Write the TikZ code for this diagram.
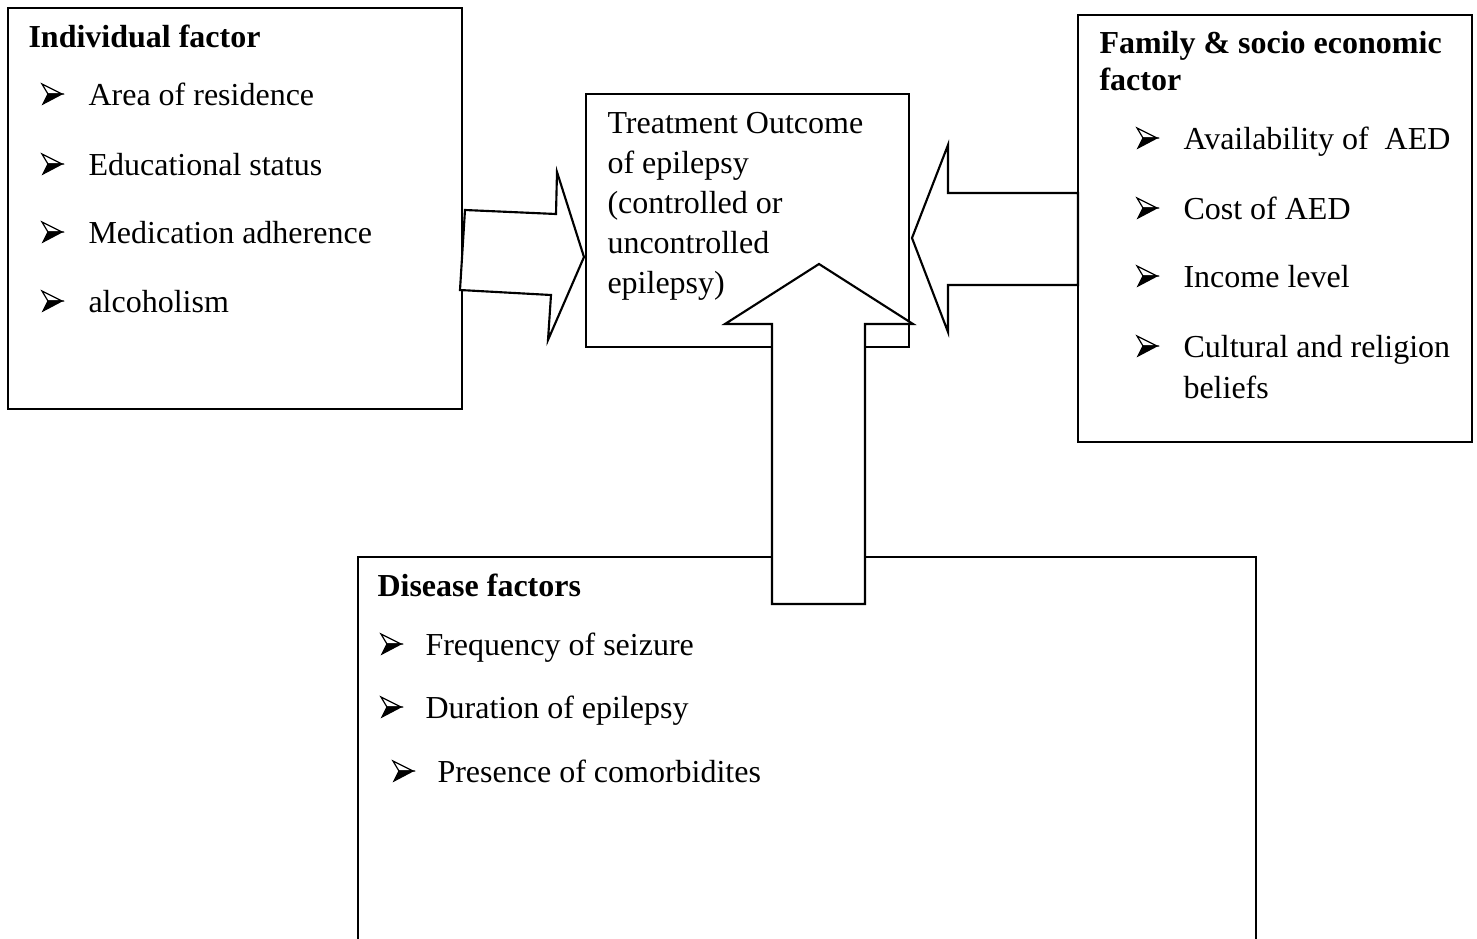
\documentclass[tikz,border=0pt]{standalone}
\usepackage{fontspec}
\setmainfont{Liberation Serif}
\begin{document}
\begin{tikzpicture}[x=0.375pt,y=-0.375pt,
  box/.style={draw=black,line width=0.8pt,fill=white},
  blockarrow/.style={draw=black,line width=0.8pt,fill=white,line join=miter},
  txt/.style={anchor=base west,inner sep=0pt,font=\fontsize{12}{15}\selectfont},
  head/.style={txt,font=\fontsize{12}{15}\selectfont\bfseries},
  pics/arrowbullet/.style={code={
    \draw[line width=0.45pt,line join=miter,fill=white] (0,-10) -- (20,0) -- (6,0) -- cycle;
    \fill[black] (6,0) -- (20,0) -- (1,10) -- cycle;
    \draw[line width=0.45pt,line join=miter] (6,0) -- (20,0) -- (1,10) -- cycle;
  }}]
\useasboundingbox (0,0) rectangle (1477,939);
\begin{scope}
\clip (0,0) rectangle (1477,939);
% boxes
\draw[box] (8,8) rectangle (462,409);
\draw[box] (586,94) rectangle (909,347);
\draw[box] (1078,15) rectangle (1472,442);
\draw[box] (358,557) rectangle (1256,960);
% block arrows
\draw[blockarrow] (465,210) -- (556,214) -- (557,172) -- (584,257) -- (548,340) -- (551,295) -- (460,290) -- cycle;
\draw[blockarrow] (1078,193) -- (948,193) -- (948,145) -- (912,238) -- (948,332) -- (948,285) -- (1078,285) -- cycle;
\draw[blockarrow] (772,604) -- (772,324) -- (725,324) -- (819,264) -- (913,324) -- (865,324) -- (865,604) -- cycle;
\end{scope}
% Individual factor
\node[head] (h1) at (28,47) {Individual factor};
\foreach \y/\t [count=\i] in {105/Area of residence,175/Educational status,243/Medication adherence,312/alcoholism}{
  \pic at (42,\y-11) {arrowbullet};
  \node[txt] (t1\i) at (88,\y) {\t};
}
% Treatment outcome
\foreach \y/\t [count=\i] in {133/Treatment Outcome,173/of epilepsy,213/(controlled or,253/uncontrolled,293/epilepsy)}{
  \node[txt] (t2\i) at (607,\y) {\t};
}
% Family
\node[head] (h3a) at (1099,53) {Family \& socio economic};
\node[head] (h3b) at (1099,90) {factor};
\foreach \y/\t [count=\i] in {149/Availability of\ \ AED,219/Cost of AED,287/Income level,357/Cultural and religion}{
  \pic at (1137,\y-11) {arrowbullet};
  \node[txt] (t3\i) at (1183,\y) {\t};
}
\node[txt] (t35) at (1183,398) {beliefs};
% Disease
\node[head] (h4) at (377,596) {Disease factors};
\pic at (381,644) {arrowbullet};
\node[txt] (t41) at (425,655) {Frequency of seizure};
\pic at (381,707) {arrowbullet};
\node[txt] (t42) at (425,718) {Duration of epilepsy};
\pic at (393,771) {arrowbullet};
\node[txt] (t43) at (437,782) {Presence of comorbidites};
\end{tikzpicture}
\end{document}
